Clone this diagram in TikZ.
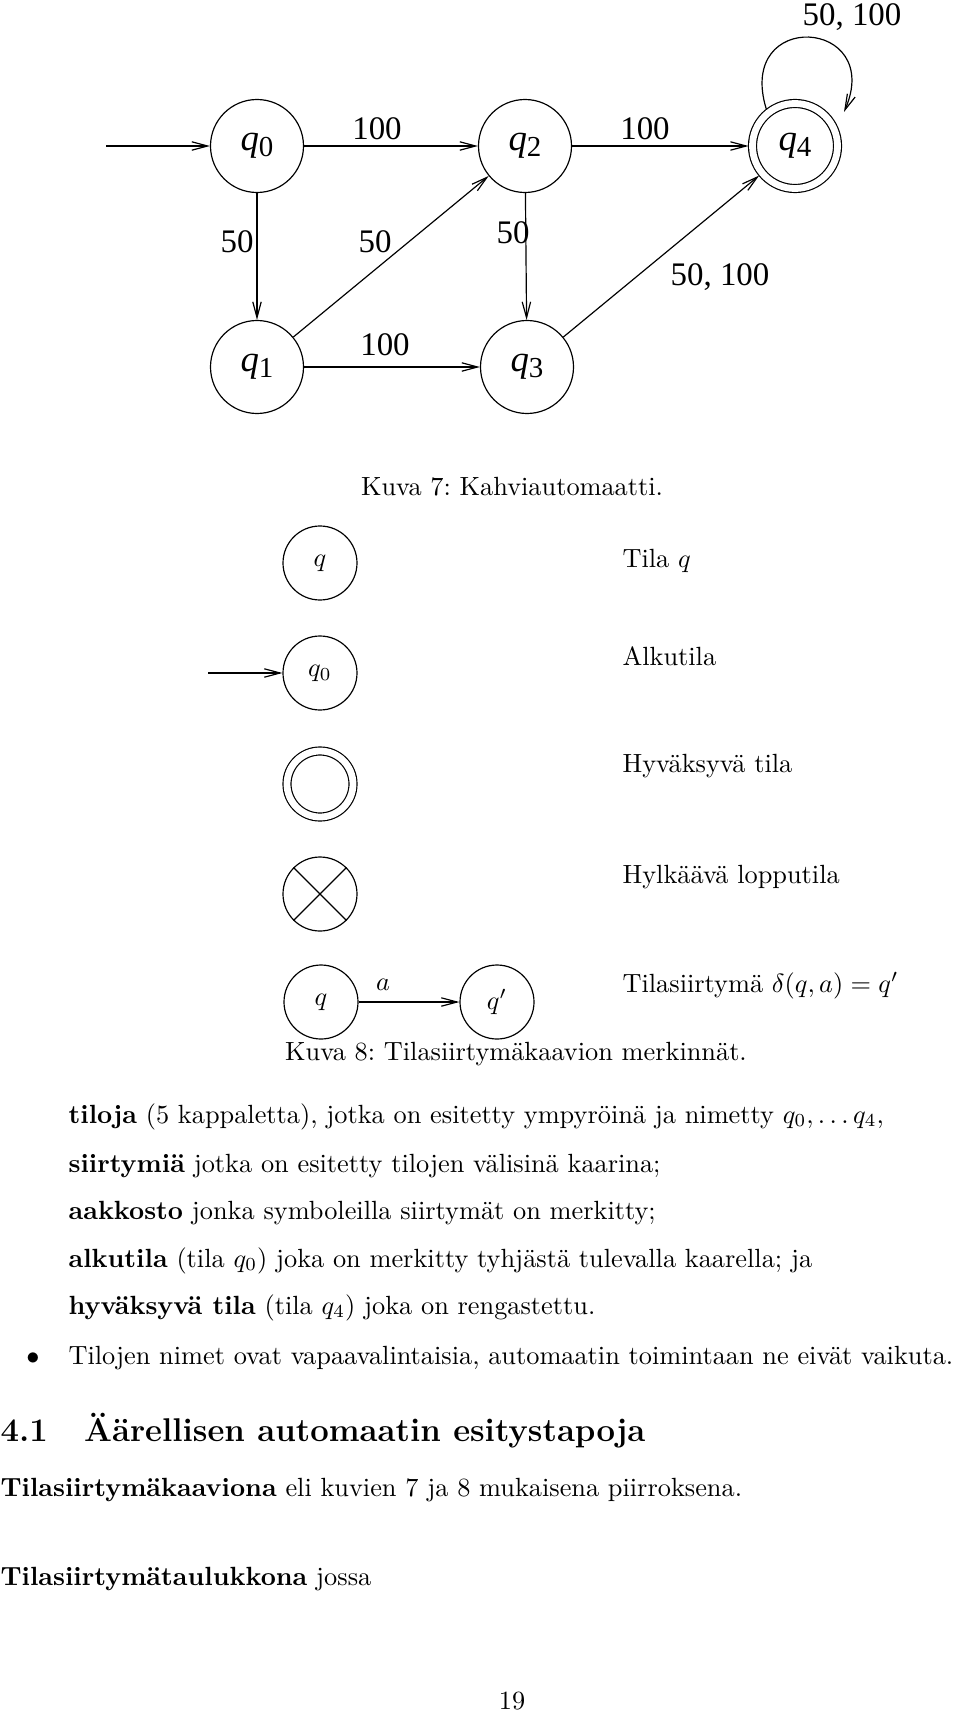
\documentclass[tikz,border=0pt]{standalone}
\usepackage{fontspec}
\newfontfamily\timesfont{Liberation Serif}
\usetikzlibrary{arrows.meta}
\def\px{0.38pt}
% state name in the xfig style: big italic q, large subscript
\newcommand{\qsub}[1]{{\fontsize{14}{16}\selectfont\itshape q}\raisebox{-0.45ex}{\fontsize{11}{13}\selectfont #1}}

\begin{document}
\frenchspacing
\begin{tikzpicture}[x=\px,y=-\px,line width=0.45pt,
  >={Straight Barb[length=6pt,width=3.2pt]},
  figstate/.style={draw,circle,inner sep=0pt,minimum size=93*\px,font=\timesfont},
  figaccept/.style={figstate,double,double distance=6.8*\px,minimum size=85*\px,outer sep=4*\px},
  figlab/.style={inner sep=0pt,font=\timesfont\fontsize{12.5}{14}\selectfont},
  legstate/.style={draw,circle,inner sep=0pt,minimum size=74*\px},
  legaccept/.style={legstate,double,double distance=6.8*\px,minimum size=66*\px},
  txt/.style={anchor=base west,inner sep=0pt}]
\useasboundingbox (0,0) rectangle (960,1716);
% ---------- Kuva 7: the automaton ----------
\node[figstate] (q0) at (257,146) {\qsub{0}};
\node[figstate] (q2) at (525,146) {\qsub{2}};
\node[figaccept] (q4) at (795,146) {\qsub{4}};
\node[figstate] (q1) at (257,367) {\qsub{1}};
\node[figstate] (q3) at (527,367) {\qsub{3}};
\coordinate (start) at (106,146);
\coordinate (loopend) at (844,112);
\draw[->] (start) -- (q0);
\draw[->] (q0) -- (q2);
\draw[->] (q2) -- (q4);
\draw[->] (q0) -- (q1);
\draw[->] (q2) -- (q3);
\draw[->] (q1) -- (q3);
\draw[->] (q1) -- (q2);
\draw[->] (q3) -- (q4);
\draw[->] (q4.128) .. controls (735,8) and (885,18) .. (loopend);
% ---------- transition labels ----------
\node[figlab] (l02) at (377,129) {100};
\node[figlab] (l24) at (645,129) {100};
\node[figlab] (l01) at (237,242) {50};
\node[figlab] (l12) at (375,242) {50};
\node[figlab] (l23) at (513,233) {50};
\node[figlab] (l13) at (385,345) {100};
\node[figlab] (l34) at (720,277) {50, 100};
\node[figlab] (l44) at (852,17) {50, 100};
\node (cap7) at (512,487) {Kuva 7: Kahviautomaatti.};
% ---------- Kuva 8: notation ----------
\node[legstate] (lq) at (320,563) {$q$};
\node[legstate] (lq0) at (320,673) {$q_0$};
\coordinate (lstart) at (208,673);
\draw[->] (lstart) -- (lq0);
\node[legaccept] (lacc) at (320,784) {};
\node[legstate] (lrej) at (320,894) {};
\draw (lrej.45) -- (lrej.225);
\draw (lrej.135) -- (lrej.-45);
\node[legstate] (lqa) at (321,1002) {$q$};
\node[legstate] (lqb) at (497,1002) {$q'$};
\draw[->] (lqa) -- (lqb);
\node (la) at (383,985) {$a$};
\foreach \y/\t in {567/{Tila $q$},665/Alkutila,772/{Hyväksyvä tila},883/{Hylkäävä lopputila},992/{Tilasiirtymä $\delta(q,a) = q'$}}{
  \node[txt] at (622,\y) {\t};
}
\node (cap8) at (516,1054) {Kuva 8: Tilasiirtymäkaavion merkinnät.};
% ---------- running text ----------
\node[txt] (t1) at (68,1123) {\textbf{tiloja} (5 kappaletta), jotka on esitetty ympyröinä ja nimetty $q_0,\ldots q_4$,};
\node[txt] (t2) at (68,1172) {\textbf{siirtymiä} jotka on esitetty tilojen välisinä kaarina;};
\node[txt] (t3) at (68,1219) {\textbf{aakkosto} jonka symboleilla siirtymät on merkitty;};
\node[txt] (t4) at (68,1267) {\textbf{alkutila} (tila $q_0$) joka on merkitty tyhjästä tulevalla kaarella; ja};
\node[txt] (t5) at (68,1314) {\textbf{hyväksyvä tila} (tila $q_4$) joka on rengastettu.};
\node[anchor=base,inner sep=0pt] (bul) at (33,1364) {$\bullet$};
\node[txt] (t6) at (68,1364) {Tilojen nimet ovat vapaavalintaisia, automaatin toimintaan ne eivät vaikuta.};
\node[txt] (sec) at (0,1441) {\fontsize{12.5}{15}\selectfont\bfseries 4.1\hspace{1.1em}Äärellisen automaatin esitystapoja};
\node[txt] (t7) at (0,1496) {\textbf{Tilasiirtymäkaaviona} eli kuvien 7 ja 8 mukaisena piirroksena.};
\node[txt] (t8) at (0,1585) {\textbf{Tilasiirtymätaulukkona} jossa};
\node[anchor=base,inner sep=0pt] (page) at (512,1709) {19};
\end{tikzpicture}
\end{document}
